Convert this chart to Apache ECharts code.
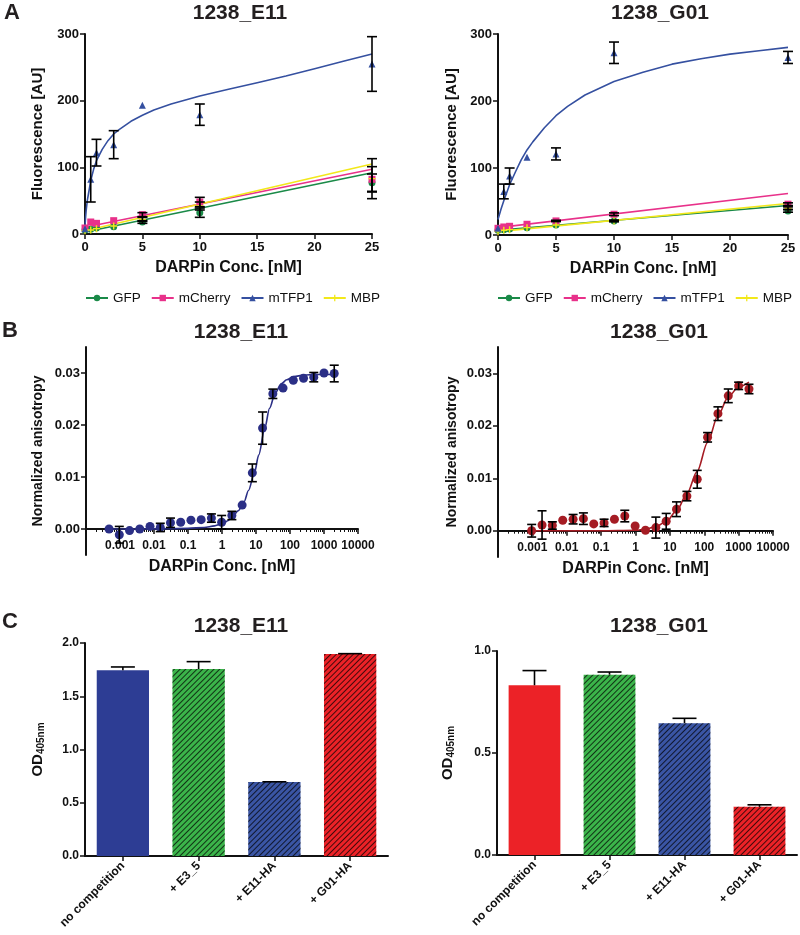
<!DOCTYPE html>
<html><head><meta charset="utf-8">
<script src="https://cdn.jsdelivr.net/npm/echarts@6/dist/echarts.min.js"></script>
<style>html,body{margin:0;padding:0;background:#fff}#c{width:800px;height:935px}</style>
</head><body><div id="c"></div>
<script>
// ================= Panel A data (Fluorescence vs DARPin conc.) =================
const concA = [0, 0.5, 1, 2.5, 5, 10, 25];
const legendNames = ['GFP', 'mCherry', 'mTFP1', 'MBP'];
// 1238_E11
const gfpE11 = [6, 7, 9, 11, 18, 32, 77];
const gfpE11Err = [0, 0, 0, 0, 2, 7, 13];
const mcherryE11 = [9, 18, 16, 20, 29, 48, 82];
const mcherryE11Err = [0, 0, 0, 0, 3, 7, 19];
const mtfp1E11 = [8, 82, 122, 134, 193, 179, 255];
const mtfp1E11Err = [0, 34, 20, 21, 0, 16, 41];
const mbpE11 = [5, 6, 8, 12, 22, 42, 83];
const mbpE11Err = [0, 0, 0, 0, 3, 6, 30];
const fitXA = [0, 25];
const gfpFitE11 = [3, 92];
const mcherryFitE11 = [10, 97];
const mbpFitE11 = [5, 105];
const curveXE11 = [0, 0.05, 0.1, 0.2, 0.3, 0.5, 0.75, 1, 1.5, 2, 2.5, 3, 4, 5, 6, 7.5, 10, 12.5, 15, 17.5, 20, 22.5, 25];
const curveYE11 = [12, 25, 35, 50, 60, 80, 97, 110, 127, 140, 150, 157, 169, 178, 186, 195, 207, 217, 227, 237, 248, 259, 270];
// 1238_G01
const gfpG01 = [7, 8, 9, 11, 15, 21, 36];
const gfpG01Err = [0, 0, 0, 0, 0, 1, 2];
const mcherryG01 = [10, 12, 13, 16, 21, 31, 46];
const mcherryG01Err = [0, 0, 0, 0, 1, 2, 2];
const mtfp1G01 = [10, 65, 88, 116, 121, 272, 265];
const mtfp1G01Err = [0, 11, 12, 0, 9, 16, 9];
const mbpG01 = [5, 7, 8, 11, 15, 21, 40];
const mbpG01Err = [0, 0, 0, 0, 0, 1, 2];
const gfpFitG01 = [7, 44];
const mcherryFitG01 = [11, 62];
const mbpFitG01 = [5, 47];
const curveXG01 = [0, 0.25, 0.5, 1, 1.5, 2, 2.5, 3, 4, 5, 6, 7.5, 10, 12.5, 15, 17.5, 20, 22.5, 25];
const curveYG01 = [23, 38, 51, 75, 94, 112, 127, 139, 160, 178, 192, 209, 229, 243, 255, 263, 270, 275, 280];

// ================= Panel B data (anisotropy, log x) =================
const concBE11 = [0.000477, 0.000954, 0.00191, 0.00381, 0.00763, 0.0153, 0.0305, 0.061, 0.122, 0.244, 0.488, 0.977, 1.95, 3.91, 7.81, 15.6, 31.3, 62.5, 125, 250, 500, 1000, 2000];
const anisoE11 = [0, -0.0011, -0.0003, 0, 0.0005, 0.0003, 0.0012, 0.0013, 0.0017, 0.0018, 0.0021, 0.0013, 0.0026, 0.0046, 0.0108, 0.0194, 0.026, 0.0271, 0.0286, 0.029, 0.0292, 0.030, 0.0299];
const anisoE11Err = [0, 0.0016, 0, 0, 0, 0.0008, 0.0009, 0, 0, 0, 0.0008, 0.0013, 0.0008, 0, 0.0017, 0.0031, 0.0009, 0, 0, 0, 0.0009, 0, 0.0016];
const fitXBE11 = [0.0005, 0.01, 0.1, 0.3, 0.6, 1, 1.5, 2, 3, 4.5, 6, 9, 12, 18, 25, 37, 55, 80, 130, 250, 600, 2000];
const fitYBE11 = [0, 0.00002, 0.00012, 0.0003, 0.0006, 0.001, 0.0016, 0.0023, 0.0035, 0.0053, 0.0074, 0.0108, 0.0142, 0.0193, 0.0232, 0.0262, 0.0279, 0.0287, 0.0293, 0.0296, 0.0297, 0.0297];
const concBG01 = [0.000954, 0.00191, 0.00381, 0.00763, 0.0153, 0.0305, 0.061, 0.122, 0.244, 0.488, 0.977, 1.95, 3.91, 7.81, 15.6, 31.3, 62.5, 125, 250, 500, 1000, 2000];
const anisoG01 = [0, 0.0011, 0.001, 0.002, 0.0022, 0.0023, 0.0013, 0.0015, 0.0022, 0.0028, 0.0009, 0.0001, 0.0006, 0.0018, 0.0041, 0.0066, 0.0098, 0.0178, 0.0223, 0.0257, 0.0276, 0.027];
const anisoG01Err = [0.0012, 0.0027, 0.0007, 0, 0.0009, 0.0011, 0, 0.0007, 0, 0.0011, 0, 0, 0.002, 0.0015, 0.0014, 0.0009, 0.0017, 0.0009, 0.0013, 0.0013, 0.0007, 0.0009];
const fitXBG01 = [0.001, 0.1, 1, 2, 4, 8, 16, 31, 62, 125, 250, 500, 1000, 2000];
const fitYBG01 = [0, 0, 0.0001, 0.0003, 0.0008, 0.0018, 0.0039, 0.007, 0.0113, 0.0168, 0.0219, 0.0255, 0.0274, 0.0283];
const anisoTicks = [0, 0.01, 0.02, 0.03];

// ================= Panel C data (competition ELISA) =================
const catsC = ['no competition', '+ E3_5', '+ E11-HA', '+ G01-HA'];
const odE11 = [1.745, 1.755, 0.694, 1.896];
const odE11Err = [0.03, 0.07, 0.003, 0.004];
const odG01 = [0.832, 0.884, 0.646, 0.236];
const odG01Err = [0.072, 0.013, 0.024, 0.01];

// ================= styling =================
const FONT = '"Liberation Sans", Arial, Helvetica, sans-serif';
const INK = '#111';
const COL = { gfp: '#1a8a48', mcherry: '#e8318a', mtfp1: '#3550a0', mbp: '#f2e81a',
  navy: '#2b2f86', darkred: '#a51c24', blueSolid: '#2d3d94', green: '#3bb44a', blue: '#3a55a4', red: '#ec2227' };
const hatch = { symbol: 'rect', symbolSize: 1, color: 'rgba(0,0,0,0.72)', backgroundColor: null,
  dashArrayX: [1, 0], dashArrayY: [1, 2.2], rotation: -Math.PI / 4 };
const barColorsE11 = [COL.blueSolid, COL.green, COL.blue, COL.red];
const barColorsG01 = [COL.red, COL.green, COL.blue, COL.red];
const barHatched = [false, true, true, true];

function axisBase(extra) {
  return Object.assign({
    axisLine: { show: true, lineStyle: { color: INK, width: 2 } },
    axisTick: { show: true, length: 5, lineStyle: { color: INK, width: 1.5 } },
    axisLabel: { color: INK, fontWeight: 'bold', fontSize: 13, fontFamily: FONT },
    splitLine: { show: false },
    nameTextStyle: { color: INK, fontWeight: 'bold', fontSize: 16, fontFamily: FONT },
    nameLocation: 'middle'
  }, extra);
}
function xy(xs, ys) { return xs.map((x, i) => [x, ys[i]]); }
function errSeries(xi, xs, ys, es, cap, upOnly) {
  return {
    type: 'custom', xAxisIndex: xi, yAxisIndex: xi, z: 6, silent: true,
    encode: { x: 0, y: 1 },
    data: xs.map((x, i) => [x, ys[i], es[i]]),
    renderItem: function (params, api) {
      const x = api.value(0), y = api.value(1), e = api.value(2);
      if (!e) return { type: 'group', children: [] };
      const lo = upOnly ? y : y - e;
      const p1 = api.coord([x, lo]), p2 = api.coord([x, y + e]);
      const st = { stroke: '#000', lineWidth: 1.6 };
      const ch = [
        { type: 'line', shape: { x1: p1[0], y1: p1[1], x2: p2[0], y2: p2[1] }, style: st },
        { type: 'line', shape: { x1: p2[0] - cap, y1: p2[1], x2: p2[0] + cap, y2: p2[1] }, style: st }
      ];
      if (!upOnly) ch.push({ type: 'line', shape: { x1: p1[0] - cap, y1: p1[1], x2: p1[0] + cap, y2: p1[1] }, style: st });
      return { type: 'group', children: ch };
    }
  };
}
const symCross = 'path://M4,0H6V4H10V6H6V10H4V6H0V4H4Z';
function panelASeries(ai, d) {
  const s = [];
  const defs = [
    ['GFP', COL.gfp, 'circle', d.gfp, d.gfpErr, d.gfpFit],
    ['mCherry', COL.mcherry, 'rect', d.mch, d.mchErr, d.mchFit],
    ['MBP', COL.mbp, symCross, d.mbp, d.mbpErr, d.mbpFit]
  ];
  defs.forEach(df => s.push({ type: 'line', name: df[0], xAxisIndex: ai, yAxisIndex: ai, symbol: df[2], symbolSize: 7,
    showSymbol: false, data: xy(fitXA, df[5]), lineStyle: { color: df[1], width: 1.6 }, itemStyle: { color: df[1] }, z: 2, silent: true }));
  s.push({ type: 'line', name: 'mTFP1', xAxisIndex: ai, yAxisIndex: ai, symbol: 'triangle', symbolSize: 7, showSymbol: false,
    smooth: false, data: xy(d.cx, d.cy), lineStyle: { color: COL.mtfp1, width: 1.6 }, itemStyle: { color: COL.mtfp1 }, z: 2, silent: true });
  defs.forEach(df => s.push(errSeries(ai, concA, df[3], df[4], 5, false)));
  s.push(errSeries(ai, concA, d.tfp, d.tfpErr, 5, false));
  defs.forEach(df => s.push({ type: 'scatter', name: df[0], xAxisIndex: ai, yAxisIndex: ai, symbol: df[2], symbolSize: 7,
    data: xy(concA, df[3]), itemStyle: { color: df[1], opacity: 1 }, z: 4 }));
  s.push({ type: 'scatter', name: 'mTFP1', xAxisIndex: ai, yAxisIndex: ai, symbol: 'triangle', symbolSize: 7,
    data: xy(concA, d.tfp), itemStyle: { color: COL.mtfp1, opacity: 1 }, z: 4 });
  return s;
}
function panelBSeries(ai, xs, ys, es, fx, fy, color) {
  return [
    { type: 'line', xAxisIndex: ai, yAxisIndex: ai, data: xy(fx, fy), showSymbol: false, smooth: 0.3, smoothMonotone: 'x',
      lineStyle: { color: color, width: 1.6 }, z: 2, silent: true },
    { type: 'scatter', xAxisIndex: ai, yAxisIndex: ai, data: xy(xs, ys), symbol: 'circle', symbolSize: 9, itemStyle: { color: color, opacity: 1 }, z: 4 },
    errSeries(ai, xs, ys, es, 4.5, false)
  ];
}
function panelCSeries(ai, vals, errs, colors) {
  return [
    { type: 'bar', xAxisIndex: ai, yAxisIndex: ai, barWidth: '69%',
      data: vals.map((v, i) => ({ value: v, itemStyle: barHatched[i] ? { color: colors[i], decal: hatch } : { color: colors[i] } })), z: 2 },
    errSeries(ai, vals.map((v, i) => i), vals, errs, 12, true)
  ];
}
const logLabel = v => { const e = Math.round(Math.log10(v)); if (e < -3) return ''; return e < 0 ? v.toFixed(-e) : String(Math.round(v)); };

const grids = [
  { left: 85, top: 34, width: 287, height: 200 },
  { left: 498, top: 34, width: 290, height: 201 },
  { left: 86, top: 347, width: 272, height: 208 },
  { left: 498, top: 347, width: 275, height: 210 },
  { left: 85, top: 643, width: 303, height: 213 },
  { left: 497, top: 651, width: 300, height: 204 }
].map(g => Object.assign({ containLabel: false, outerBoundsMode: 'none' }, g));

const xA = i => axisBase({ type: 'value', gridIndex: i, min: 0, max: 25, interval: 5, name: 'DARPin Conc. [nM]', nameGap: 26,
  axisLabel: { color: INK, fontWeight: 'bold', fontSize: 13, fontFamily: FONT, margin: 7 } });
const yA = (i, gap) => axisBase({ type: 'value', gridIndex: i, min: 0, max: 300, interval: 100, name: 'Fluorescence [AU]', nameGap: gap,
  nameTextStyle: { color: INK, fontWeight: 'bold', fontSize: 15, fontFamily: FONT },
  axisLabel: { color: INK, fontWeight: 'bold', fontSize: 13, fontFamily: FONT, margin: 6 } });
const xB = (i, gap, off) => axisBase({ type: 'log', logBase: 10, gridIndex: i, min: 0.0001, max: 10000, splitNumber: 10,
  name: 'DARPin Conc. [nM]', nameGap: gap, offset: off,
  axisLine: { show: true, onZero: false, lineStyle: { color: INK, width: 2 } },
  minorTick: { show: true, splitNumber: 9, length: 3, lineStyle: { color: INK, width: 1 } },
  axisLabel: { color: INK, fontWeight: 'bold', fontSize: 12, fontFamily: FONT, margin: 11, formatter: logLabel, interval: 0, hideOverlap: false } });
const yB = (i, gap) => axisBase({ type: 'value', gridIndex: i, min: -0.005, max: 0.035, name: 'Normalized anisotropy', nameGap: gap,
  axisLine: { show: true, onZero: false, lineStyle: { color: INK, width: 2 } },
  nameTextStyle: { color: INK, fontWeight: 'bold', fontSize: 14, fontFamily: FONT },
  axisTick: { show: true, length: 5, customValues: anisoTicks, lineStyle: { color: INK, width: 1.5 } },
  axisLabel: { color: INK, fontWeight: 'bold', fontSize: 13, fontFamily: FONT, margin: 6, customValues: anisoTicks, formatter: v => v.toFixed(2) } });
const xC = i => axisBase({ type: 'category', gridIndex: i, data: catsC,
  axisTick: { show: true, alignWithLabel: true, length: 5, lineStyle: { color: INK, width: 1.5 } },
  axisLabel: { color: INK, fontWeight: 'bold', fontSize: 12, fontFamily: FONT, rotate: 45, margin: 8, interval: 0 } });
const yC = (i, max, gap) => axisBase({ type: 'value', gridIndex: i, min: 0, max: max, interval: 0.5, name: '{a|OD}{b|405nm}', nameGap: gap,
  nameTextStyle: { color: INK, fontFamily: FONT, rich: {
    a: { fontSize: 15, fontWeight: 'bold', fontFamily: FONT, color: INK, lineHeight: 15, verticalAlign: 'top' },
    b: { fontSize: 10, fontWeight: 'bold', fontFamily: FONT, color: INK, lineHeight: 22, verticalAlign: 'middle' } } },
  axisLabel: { color: INK, fontWeight: 'bold', fontSize: 12, fontFamily: FONT, margin: 6, formatter: v => v.toFixed(1) } });

function txt(x, y, t, size) {
  return { type: 'text', x: x, y: y, silent: true, style: { text: t, font: 'bold ' + size + 'px ' + FONT, fill: '#231f20', textAlign: 'center', textVerticalAlign: 'middle' } };
}

const legendBase = { data: legendNames, top: 286, width: 310, itemWidth: 22, itemHeight: 8, itemGap: 10, selectedMode: false,
  textStyle: { fontSize: 13.5, color: INK, fontFamily: FONT } };

const option = {
  animation: false,
  backgroundColor: '#fff',
  grid: grids,
  legend: [Object.assign({ left: 80 }, legendBase), Object.assign({ left: 492 }, legendBase)],
  xAxis: [xA(0), xA(1), xB(2, 30, -26), xB(3, 30, -26.3), xC(4), xC(5)],
  yAxis: [yA(0, 40), yA(1, 39), yB(2, 41), yB(3, 39), yC(4, 2.0, 33), yC(5, 1.0, 35)],
  graphic: [
    txt(12, 13, 'A', 22), txt(10, 331, 'B', 22), txt(10, 622, 'C', 22),
    txt(240, 13, '1238_E11', 21), txt(660, 13, '1238_G01', 21),
    txt(241, 332, '1238_E11', 21), txt(659, 332, '1238_G01', 21),
    txt(241, 626, '1238_E11', 21), txt(659, 626, '1238_G01', 21)
  ],
  series: [].concat(
    panelASeries(0, { gfp: gfpE11, gfpErr: gfpE11Err, gfpFit: gfpFitE11, mch: mcherryE11, mchErr: mcherryE11Err, mchFit: mcherryFitE11,
      mbp: mbpE11, mbpErr: mbpE11Err, mbpFit: mbpFitE11, tfp: mtfp1E11, tfpErr: mtfp1E11Err, cx: curveXE11, cy: curveYE11 }),
    panelASeries(1, { gfp: gfpG01, gfpErr: gfpG01Err, gfpFit: gfpFitG01, mch: mcherryG01, mchErr: mcherryG01Err, mchFit: mcherryFitG01,
      mbp: mbpG01, mbpErr: mbpG01Err, mbpFit: mbpFitG01, tfp: mtfp1G01, tfpErr: mtfp1G01Err, cx: curveXG01, cy: curveYG01 }),
    panelBSeries(2, concBE11, anisoE11, anisoE11Err, fitXBE11, fitYBE11, COL.navy),
    panelBSeries(3, concBG01, anisoG01, anisoG01Err, fitXBG01, fitYBG01, COL.darkred),
    panelCSeries(4, odE11, odE11Err, barColorsE11),
    panelCSeries(5, odG01, odG01Err, barColorsG01)
  )
};
const chart = echarts.init(document.getElementById('c'), null, { renderer: 'canvas' });
chart.setOption(option);
</script></body></html>
